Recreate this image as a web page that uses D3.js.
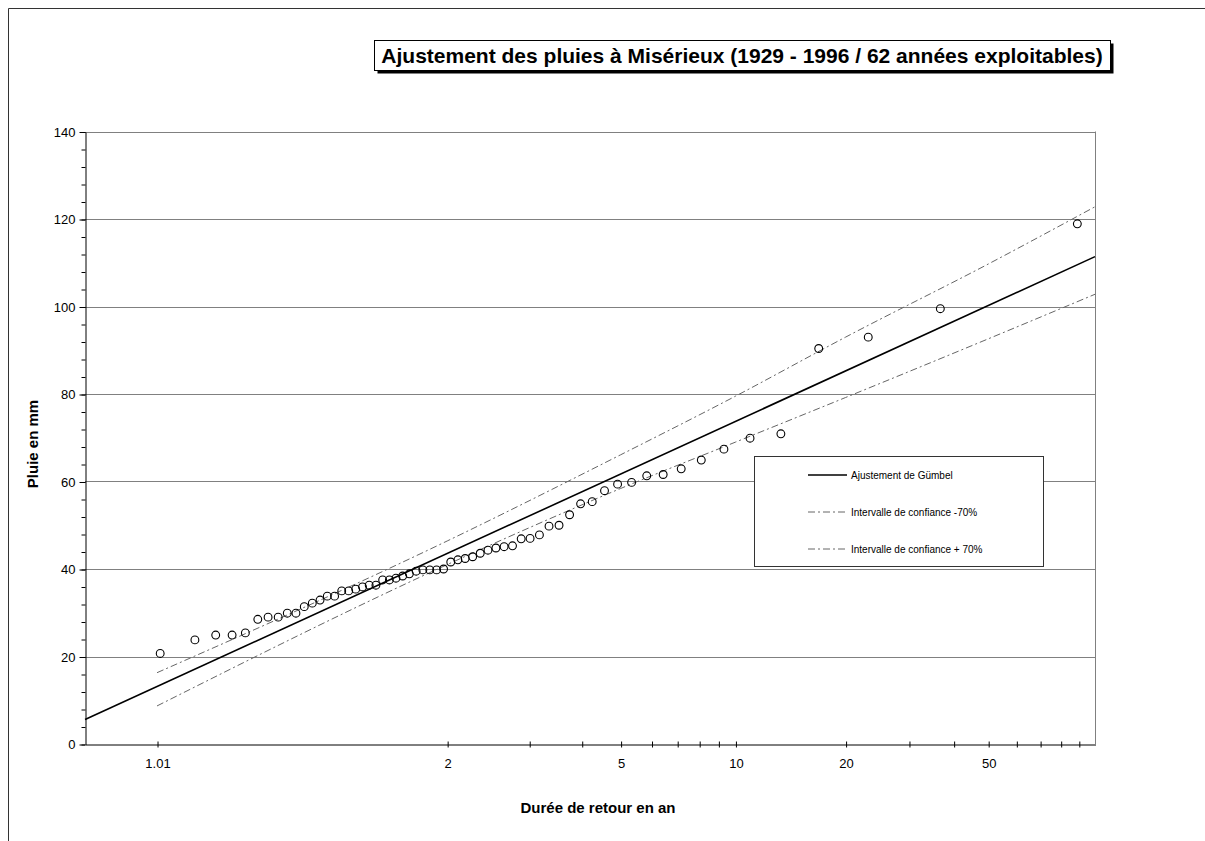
<!DOCTYPE html>
<html>
<head>
<meta charset="utf-8">
<script src="https://cdn.jsdelivr.net/npm/d3@7"></script>
<style>
  body { margin: 0; background: #fff; overflow: hidden; }
  text { font-family: Arial, "Liberation Sans", sans-serif; }
</style>
</head>
<body>
<script>
// observed rainfall, sorted, with the return period each point is plotted at
const returnPeriods = [1.011, 1.028, 1.045, 1.063, 1.081, 1.101, 1.120, 1.141, 1.162, 1.184,
    1.207, 1.231, 1.256, 1.281, 1.308, 1.336, 1.365, 1.396, 1.428, 1.461,
    1.496, 1.533, 1.572, 1.612, 1.655, 1.700, 1.748, 1.798, 1.852, 1.908,
    1.968, 2.033, 2.101, 2.174, 2.253, 2.337, 2.428, 2.526, 2.633, 2.749,
    2.876, 3.014, 3.168, 3.337, 3.525, 3.737, 3.975, 4.245, 4.555, 4.913,
    5.333, 5.832, 6.433, 7.172, 8.104, 9.313, 10.95, 13.28, 16.86, 23.11,
    36.71, 89.14];
const rainfall = [20.7, 23.8, 24.9, 24.9, 25.4, 28.5, 29.0, 29.0, 29.9, 29.9,
    31.4, 32.2, 32.9, 33.8, 33.8, 35.0, 35.0, 35.4, 35.9, 36.3,
    36.3, 37.5, 37.5, 37.9, 38.4, 38.9, 39.5, 39.8, 39.8, 39.8,
    40.0, 41.6, 42.1, 42.4, 42.8, 43.6, 44.3, 44.8, 45.1, 45.3,
    46.9, 47.0, 47.8, 49.8, 50.0, 52.4, 54.9, 55.4, 57.9, 59.4,
    59.8, 61.3, 61.6, 62.9, 64.9, 67.4, 69.9, 70.9, 90.4, 93.0,
    99.5, 118.9];

// Gumbel fit (straight on this paper) : ends of the line
const fitPeriods = [1.00062, 100];
const fitValues = [5.6, 111.4];

// confidence interval 70%
const ciPeriods = [1.01, 2, 5, 10, 20, 50, 100];
const ciLower = [8.7, 41.0, 58.4, 69.0, 79.2, 92.6, 102.8];
const ciUpper = [16.3, 46.4, 66.1, 79.5, 93.0, 109.7, 122.8];

// axis ticks
const xTickPeriods = [1.01, 2, 3, 4, 5, 6, 7, 8, 9, 10, 20, 30, 40, 50, 60, 70, 80, 90];
const xTickLabels = ["1.01", "2", "5", "10", "20", "50"];
const yTicks = [0, 20, 40, 60, 80, 100, 120, 140];

const width = 1205, height = 841;
const margin = {top: 131.5, right: 110, bottom: 97, left: 85};

// Gumbel reduced variate
const gumbel = (T) => -Math.log(-Math.log(1 - 1 / T));

const svg = d3.select("body")
    .append("svg")
    .attr("width", width)
    .attr("height", height)
    .style("display", "block");

// chart area border (only left and top are in view)
svg.append("path")
    .attr("d", `M8.5,${height} V8.5 H${width}`)
    .attr("fill", "none")
    .attr("stroke", "#333");

let xScale = d3.scaleLinear()
    .domain([-2, 4.6])
    .range([margin.left, width - margin.right]);

let yScale = d3.scaleLinear()
    .domain([0, 140])
    .range([height - margin.bottom, margin.top]);

const x0 = margin.left, x1 = width - margin.right;
const yBottom = height - margin.bottom;

// gridlines
svg.append("g")
    .selectAll("line")
    .data(yTicks.slice(1))
    .enter()
    .append("line")
    .attr("x1", x0).attr("x2", x1)
    .attr("y1", (d) => Math.round(yScale(d)) + 0.5)
    .attr("y2", (d) => Math.round(yScale(d)) + 0.5)
    .attr("stroke", "#808080");

// right border of plot area
svg.append("line")
    .attr("x1", x1 + 0.5).attr("x2", x1 + 0.5)
    .attr("y1", yScale(140)).attr("y2", yBottom)
    .attr("stroke", "#808080");

// y axis, minor ticks every 4
svg.append("g")
    .attr("transform", `translate(${x0 + 0.5}, 0.5)`)
    .call(d3.axisLeft(yScale).tickValues(d3.range(0, 141, 4)).tickSize(4).tickFormat(""))
    .call((g) => g.select(".domain").remove());

svg.append("g")
    .attr("transform", `translate(${x0 + 0.5}, 0.5)`)
    .call(d3.axisLeft(yScale).tickValues(yTicks).tickSize(6).tickSizeOuter(0).tickPadding(4))
    .attr("font-size", "13px")
    .call((g) => g.selectAll("text").attr("font-family", "Arial, 'Liberation Sans', sans-serif"));

// x axis, ticks cross the line
svg.append("g")
    .attr("transform", `translate(0.5, ${yBottom + 0.5})`)
    .call(d3.axisBottom(xScale)
        .tickValues(xTickPeriods.map(gumbel))
        .tickSize(3)
        .tickSizeOuter(0)
        .tickPadding(11)
        .tickFormat((d, i) => {
            const lab = String(xTickPeriods[i]);
            return xTickLabels.includes(lab) ? lab : "";
        }))
    .attr("font-size", "13px")
    .call((g) => g.selectAll(".tick line").attr("y1", -3))
    .call((g) => g.selectAll("text").attr("font-family", "Arial, 'Liberation Sans', sans-serif"));

// confidence lines
const ciLine = d3.line()
    .x((d) => xScale(gumbel(d[0])))
    .y((d) => yScale(d[1]))
    .curve(d3.curveMonotoneX);

[ciLower, ciUpper].forEach((vals) => {
    svg.append("path")
        .datum(ciPeriods.map((T, i) => [T, vals[i]]))
        .attr("d", ciLine)
        .attr("fill", "none")
        .attr("stroke", "#666")
        .attr("stroke-width", 1)
        .attr("stroke-dasharray", "7,3,2,3");
});

// Gumbel fit
svg.append("path")
    .datum(fitPeriods.map((T, i) => [T, fitValues[i]]))
    .attr("d", d3.line().x((d) => xScale(gumbel(d[0]))).y((d) => yScale(d[1])))
    .attr("fill", "none")
    .attr("stroke", "#000")
    .attr("stroke-width", 1.6);

// observed points
svg.append("g")
    .selectAll("circle")
    .data(rainfall)
    .enter()
    .append("circle")
    .attr("cx", (d, i) => xScale(gumbel(returnPeriods[i])))
    .attr("cy", (d) => yScale(d))
    .attr("r", 3.9)
    .attr("fill", "none")
    .attr("stroke", "#000")
    .attr("stroke-width", 1.1);

// axis titles
svg.append("text")
    .attr("x", 598).attr("y", 813)
    .attr("text-anchor", "middle")
    .attr("font-size", "15px")
    .attr("font-weight", "bold")
    .text("Durée de retour en an");

svg.append("text")
    .attr("transform", "translate(38, 444) rotate(-90)")
    .attr("text-anchor", "middle")
    .attr("font-size", "15px")
    .attr("font-weight", "bold")
    .text("Pluie en mm");

// title box with shadow
svg.append("rect")
    .attr("x", 377.5).attr("y", 43.5)
    .attr("width", 736).attr("height", 30)
    .attr("fill", "#000");
svg.append("rect")
    .attr("x", 374.5).attr("y", 40.5)
    .attr("width", 736).attr("height", 30)
    .attr("fill", "#fff")
    .attr("stroke", "#000");
svg.append("text")
    .attr("x", 742).attr("y", 63)
    .attr("text-anchor", "middle")
    .attr("font-size", "21px")
    .attr("font-weight", "bold")
    .text("Ajustement des pluies à Misérieux (1929 - 1996 / 62 années exploitables)");

// legend
const legend = svg.append("g");
legend.append("rect")
    .attr("x", 754.5).attr("y", 456.5)
    .attr("width", 289).attr("height", 110)
    .attr("fill", "#fff")
    .attr("stroke", "#333");

const legendItems = [
    {label: "Ajustement de Gümbel", dash: null, color: "#000", w: 1.6},
    {label: "Intervalle de confiance -70%", dash: "7,3,2,3", color: "#666", w: 1},
    {label: "Intervalle de confiance + 70%", dash: "7,3,2,3", color: "#666", w: 1}
];
legendItems.forEach((item, i) => {
    const y = 475 + i * 37;
    legend.append("line")
        .attr("x1", 808).attr("x2", 847)
        .attr("y1", y).attr("y2", y)
        .attr("stroke", item.color)
        .attr("stroke-width", item.w)
        .attr("stroke-dasharray", item.dash);
    legend.append("text")
        .attr("x", 851).attr("y", y + 3.5)
        .attr("font-size", "10px")
        .text(item.label);
});
</script>
</body>
</html>
